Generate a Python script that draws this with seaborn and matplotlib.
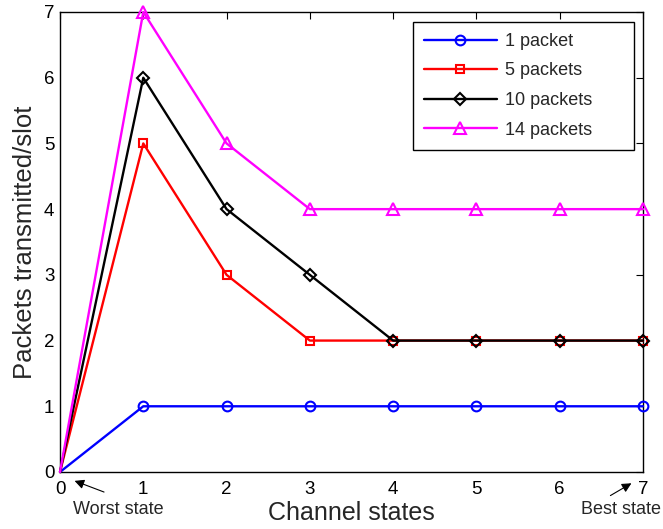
import matplotlib
matplotlib.use("Agg")
import matplotlib.pyplot as plt
import seaborn as sns
import pandas as pd

states = [0, 1, 2, 3, 4, 5, 6, 7]
p1 = [0, 1, 1, 1, 1, 1, 1, 1]
p5 = [0, 5, 3, 2, 2, 2, 2, 2]
p10 = [0, 6, 4, 3, 2, 2, 2, 2]
p14 = [0, 7, 5, 4, 4, 4, 4, 4]
labels = ["1 packet", "5 packets", "10 packets", "14 packets"]

sns.set_theme(style="white")
plt.rcParams['font.family'] = ['Liberation Sans', 'DejaVu Sans']

fig = plt.figure(figsize=(6.63, 5.29), dpi=100)
ax = fig.add_axes([60/663, 1-472/529, (643-60)/663, (472-12)/529])

series = [p1, p5, p10, p14]
colors = ["#0000ff", "#ff0000", "#000000", "#ff00ff"]
markers = ["o", "s", "D", "^"]
msizes = [7, 6, 6, 8]
for vals, lab, c, m, ms in zip(series, labels, colors, markers, msizes):
    df = pd.DataFrame({"state": states, "val": vals})
    sns.lineplot(data=df, x="state", y="val", ax=ax, color=c, marker=m,
                 markersize=ms, markerfacecolor="none", markeredgecolor=c,
                 markeredgewidth=1.5, linewidth=1.7, label=lab, clip_on=False,
                 markevery=list(range(1, len(states))), zorder=3)

ax.set_xlim(0, 7)
ax.set_ylim(0, 7)
ax.set_xticks(range(8))
ax.set_yticks(range(8))
ax.tick_params(direction="in", length=5, width=0.8, top=True, right=True,
               labelsize=13.5, colors="black")
ax.tick_params(axis="x", pad=6.5)
ax.tick_params(axis="y", pad=4)
for s in ax.spines.values():
    s.set_color("black")
    s.set_linewidth(1.0)
ax.set_xlabel("Channel states", fontsize=18, labelpad=2)
ax.set_ylabel("Packets transmitted/slot", fontsize=18.5, labelpad=5)

bx0 = (413 - 60) / 583
by0 = (472 - 145) / 460
bw = (634 - 413) / 583
bh = (145 - 22) / 460
leg = ax.legend(loc="upper left", bbox_to_anchor=(bx0, by0, bw, bh), mode="expand",
                borderaxespad=0, fontsize=13, handlelength=4.05, frameon=True,
                fancybox=False, edgecolor="black", framealpha=1, borderpad=0.6,
                labelspacing=0.7, handletextpad=0.45)
leg.get_frame().set_linewidth(1.0)

ax.annotate("", xy=(0.144, -0.12), xytext=(0.56, -0.32),
            annotation_clip=False,
            arrowprops=dict(arrowstyle="-|>", color="black", lw=0.8, mutation_scale=14))
ax.text(0.70, -0.57, "Worst state", ha="center", va="center", fontsize=13, clip_on=False)
ax.annotate("", xy=(6.89, -0.15), xytext=(6.58, -0.38),
            annotation_clip=False,
            arrowprops=dict(arrowstyle="-|>", color="black", lw=0.8, mutation_scale=14))
ax.text(6.74, -0.57, "Best state", ha="center", va="center", fontsize=13, clip_on=False)

fig.savefig("out.png", dpi=100)
